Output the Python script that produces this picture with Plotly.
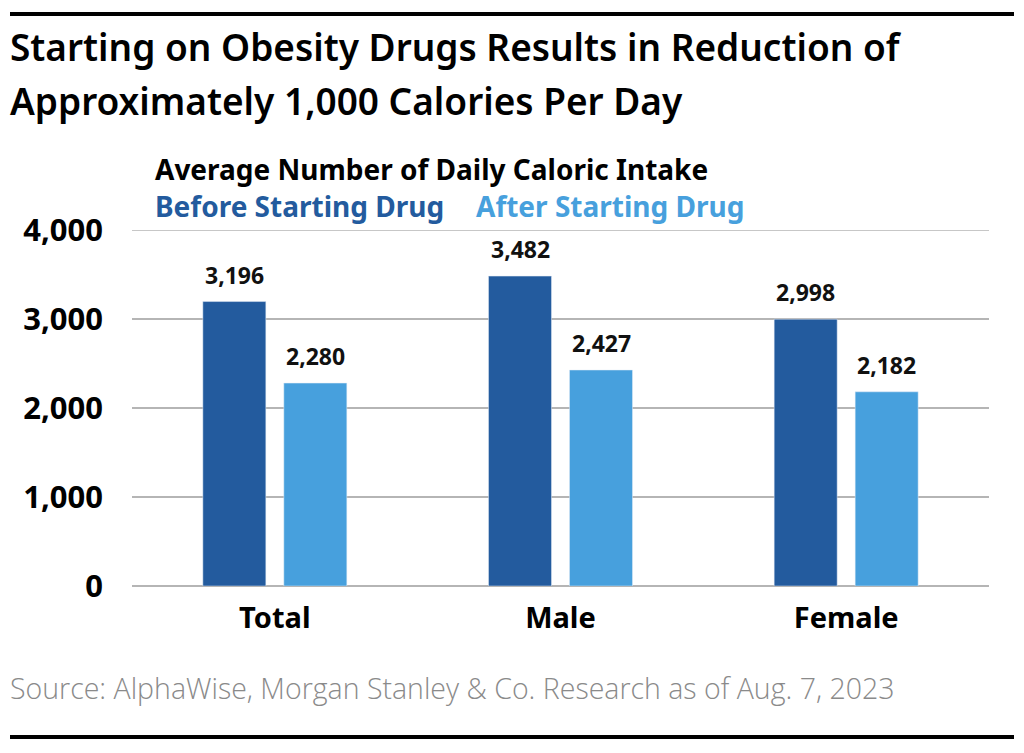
import plotly.graph_objects as go

categories = ["Total", "Male", "Female"]
before = [3196, 3482, 2998]
after = [2280, 2427, 2182]
series_names = ["Before Starting Drug", "After Starting Drug"]
tick_vals = [0, 1000, 2000, 3000, 4000]
tick_text = ["0", "1,000", "2,000", "3,000", "4,000"]

DARK = "#235B9E"
LIGHT = "#47A0DD"
OFF = 8  # page body margin
W, H = 1024 - OFF, 753 - OFF
FONT = "Noto Sans"


def px(x):
    return (x - OFF) / W


def py(y):
    return 1 - (y - OFF) / H


fig = go.Figure()
fig.add_trace(go.Bar(x=categories, y=before, name=series_names[0], marker_color=DARK))
fig.add_trace(go.Bar(x=categories, y=after, name=series_names[1], marker_color=LIGHT))

annotations = []
for series, off in [(before, -0.5), (after, 0.5)]:
    for c, v in zip(categories, series):
        annotations.append(dict(
            x=c, y=v, xref="x", yref="y", text=f"{v:,}", showarrow=False,
            xshift=off * 81, yshift=27, yanchor="middle",
            font=dict(family=FONT, size=23, color="#111", weight="bold")))

annotations += [
    dict(x=px(8), y=py(47), xref="paper", yref="paper", xanchor="left", yanchor="middle",
         text="Starting on Obesity Drugs Results in Reduction of", showarrow=False,
         font=dict(family=FONT, size=37, color="#000", weight=600)),
    dict(x=px(8), y=py(100), xref="paper", yref="paper", xanchor="left", yanchor="middle",
         text="Approximately 1,000 Calories Per Day", showarrow=False,
         font=dict(family=FONT, size=37, color="#000", weight=600)),
    dict(x=px(153), y=py(169), xref="paper", yref="paper", xanchor="left", yanchor="middle",
         text="Average Number of Daily Caloric Intake", showarrow=False,
         font=dict(family=FONT, size=28, color="#000", weight="bold")),
    dict(x=px(153), y=py(206), xref="paper", yref="paper", xanchor="left", yanchor="middle",
         text=series_names[0], showarrow=False,
         font=dict(family=FONT, size=28, color=DARK, weight="bold")),
    dict(x=px(474), y=py(206), xref="paper", yref="paper", xanchor="left", yanchor="middle",
         text=series_names[1], showarrow=False,
         font=dict(family=FONT, size=28, color=LIGHT, weight="bold")),
    dict(x=px(8), y=py(688), xref="paper", yref="paper", xanchor="left", yanchor="middle",
         text="Source: AlphaWise, Morgan Stanley &amp; Co. Research as of Aug. 7, 2023", showarrow=False,
         font=dict(family="Open Sans", size=28.5, color="#8a8a8a", weight=300)),
]

shapes = [
    dict(type="line", xref="paper", yref="paper", x0=px(10), x1=px(1014), y0=py(14), y1=py(14),
         line=dict(color="#000", width=4)),
    dict(type="line", xref="paper", yref="paper", x0=px(10), x1=px(1014), y0=py(737), y1=py(737),
         line=dict(color="#000", width=4)),
    dict(type="line", xref="paper", yref="y", x0=px(132), x1=px(989), y0=4000, y1=4000,
         line=dict(color="#b5b5b5", width=1.5)),
]

fig.update_layout(
    width=W, height=H, autosize=False,
    margin=dict(l=0, r=0, t=0, b=0),
    paper_bgcolor="white", plot_bgcolor="white",
    showlegend=False,
    barmode="group", bargap=0.433, bargroupgap=0.222,
    annotations=annotations, shapes=shapes,
    xaxis=dict(domain=[px(132), px(989)], showgrid=False, showline=False, ticks="",
               automargin=False,
               tickfont=dict(family=FONT, size=29, color="#000", weight="bold"),
               ticklabelstandoff=12),
    yaxis=dict(domain=[py(586), py(230)], range=[0, 4000], tickvals=tick_vals, ticktext=tick_text,
               automargin=False,
               showgrid=True, gridcolor="#b5b5b5", gridwidth=1.5, zeroline=True,
               zerolinecolor="#b5b5b5", zerolinewidth=1.5, showline=False, ticks="",
               tickfont=dict(family=FONT, size=31, color="#000", weight="bold"),
               ticklabelstandoff=28),
)

fig.write_html("out.html")
